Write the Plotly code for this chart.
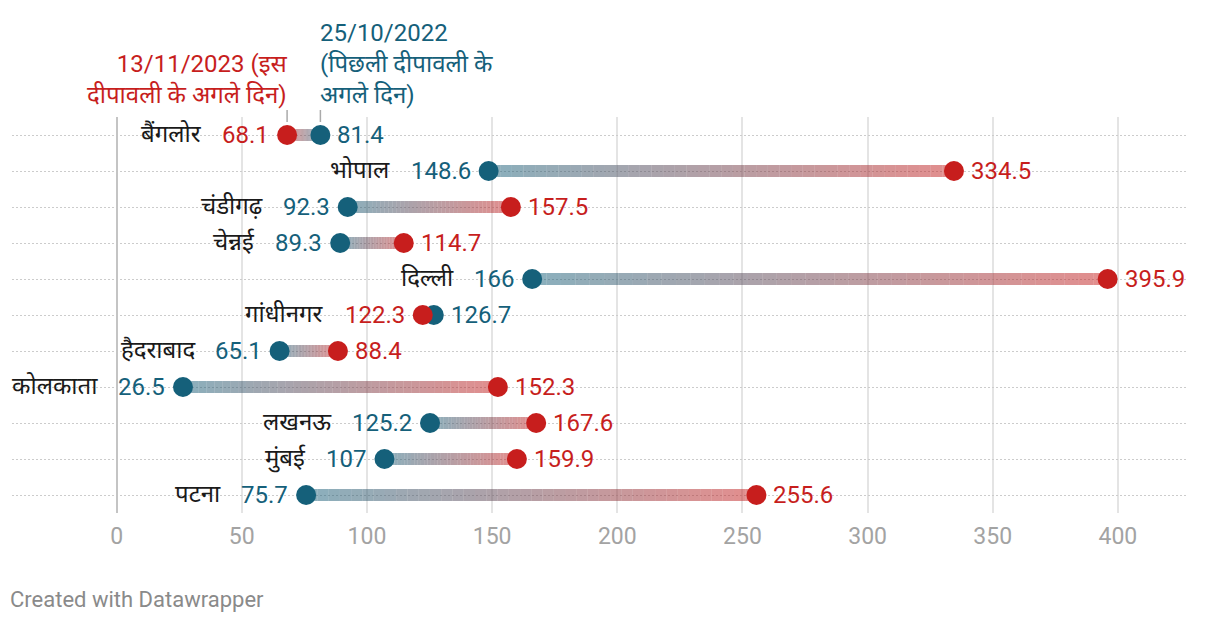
import plotly.graph_objects as go

cities = ["बैंगलोर", "भोपाल", "चंडीगढ़", "चेन्नई", "दिल्ली", "गांधीनगर",
          "हैदराबाद", "कोलकाता", "लखनऊ", "मुंबई", "पटना"]
aqi_2023 = [68.1, 334.5, 157.5, 114.7, 395.9, 122.3, 88.4, 152.3, 167.6, 159.9, 255.6]
aqi_2022 = [81.4, 148.6, 92.3, 89.3, 166, 126.7, 65.1, 26.5, 125.2, 107, 75.7]
label_2023 = "13/11/2023 (इस<br>दीपावली के अगले दिन)"
label_2022 = "25/10/2022<br>(पिछली दीपावली के<br>अगले दिन)"
x_ticks = [0, 50, 100, 150, 200, 250, 300, 350, 400]

BLUE = (21, 96, 122)
RED = (199, 30, 29)
FONT = "Roboto, 'Noto Sans Devanagari', 'Noto Sans', sans-serif"
CITY_FONT = "'Noto Sans Devanagari', Roboto, 'Noto Sans', sans-serif"
FS = 24

def fmt(v):
    return f"{v:g}"

def rgba(c, a):
    return f"rgba({c[0]},{c[1]},{c[2]},{a})"

fig = go.Figure()

rows = list(range(len(cities)))
N = 40
for k in range(N):
    t = (k + 0.5) / N
    col = tuple(round(BLUE[i] + (RED[i] - BLUE[i]) * t) for i in range(3))
    xs, ys = [], []
    for r in rows:
        a, b = aqi_2022[r], aqi_2023[r]
        xs += [a + (b - a) * k / N, a + (b - a) * (k + 1) / N, None]
        ys += [r, r, None]
    fig.add_trace(go.Scatter(x=xs, y=ys, mode="lines",
                             line=dict(color=rgba(col, 0.5), width=12),
                             hoverinfo="skip", showlegend=False))

fig.add_trace(go.Scatter(x=aqi_2022, y=rows, mode="markers",
                         marker=dict(size=20, color=rgba(BLUE, 1)),
                         showlegend=False))
fig.add_trace(go.Scatter(x=aqi_2023, y=rows, mode="markers",
                         marker=dict(size=20, color=rgba(RED, 1)),
                         showlegend=False))

def text_width(s):
    w = 0
    for ch in s:
        w += 0.262 if ch == "." else 0.5625
    return w * FS

XS = 16
annotations = []
for r in rows:
    a, b = aqi_2022[r], aqi_2023[r]
    pts = [(a, BLUE), (b, RED)]
    lo, hi = sorted(pts, key=lambda p: p[0])
    annotations.append(dict(x=lo[0], y=r, xref="x", yref="y", text=fmt(lo[0]),
                            showarrow=False, xanchor="right", xshift=-XS,
                            font=dict(family=FONT, size=FS, color=rgba(lo[1], 1))))
    annotations.append(dict(x=hi[0], y=r, xref="x", yref="y", text=fmt(hi[0]),
                            showarrow=False, xanchor="left", xshift=XS - 1,
                            font=dict(family=FONT, size=FS, color=rgba(hi[1], 1))))
    shift = -(XS + text_width(fmt(lo[0])) + 20)
    annotations.append(dict(x=lo[0], y=r, xref="x", yref="y", text=cities[r],
                            showarrow=False, xanchor="right", xshift=shift, yshift=-1,
                            font=dict(family=CITY_FONT, size=24, color="#1a1a1a",
                                      weight=400)))

PH = 396
annotations.append(dict(x=aqi_2023[0], y=1 + 6 / PH, xref="x", yref="paper",
                        text=label_2023, showarrow=False, xanchor="right",
                        yanchor="bottom", align="right", xshift=2,
                        font=dict(family=FONT, size=FS, color=rgba(RED, 1))))
annotations.append(dict(x=aqi_2022[0], y=1 + 6 / PH, xref="x", yref="paper",
                        text=label_2022, showarrow=False, xanchor="left",
                        yanchor="bottom", align="left", xshift=-2,
                        font=dict(family=FONT, size=FS, color=rgba(BLUE, 1))))
annotations.append(dict(x=0, y=-(599 - 513) / PH, xref="paper", yref="paper",
                        text="Created with Datawrapper", showarrow=False,
                        xanchor="left", yanchor="middle", xshift=-4,
                        font=dict(family=FONT, size=22, color="#8a8a8a")))

shapes = []
for v in (aqi_2023[0], aqi_2022[0]):
    shapes.append(dict(type="line", xref="x", yref="paper", x0=v, x1=v,
                       y0=1 + 7 / PH, y1=1 - 5 / PH,
                       line=dict(color="#aaaaaa", width=1.5)))

fig.update_layout(
    width=1220, height=622,
    margin=dict(l=4, r=42, t=109, b=117),
    paper_bgcolor="white", plot_bgcolor="white",
    font=dict(family=FONT),
    xaxis=dict(range=[-41.8, 427.2], tickvals=x_ticks, showgrid=True,
               gridcolor="#e4e4e4", gridwidth=1.5, zeroline=True,
               zerolinecolor="#c4c4c4", zerolinewidth=2, showline=False,
               ticks="", ticklabelstandoff=7,
               tickfont=dict(family=FONT, size=23, color="#a3a3a3"),
               fixedrange=True),
    yaxis=dict(range=[10.5, -0.5], tickvals=rows, showticklabels=False,
               showgrid=True, griddash="2px,2px", gridcolor="#cccccc", gridwidth=1,
               zeroline=False, showline=False, fixedrange=True),
    annotations=annotations, shapes=shapes,
    hovermode=False,
)

fig.write_html("out.html")
